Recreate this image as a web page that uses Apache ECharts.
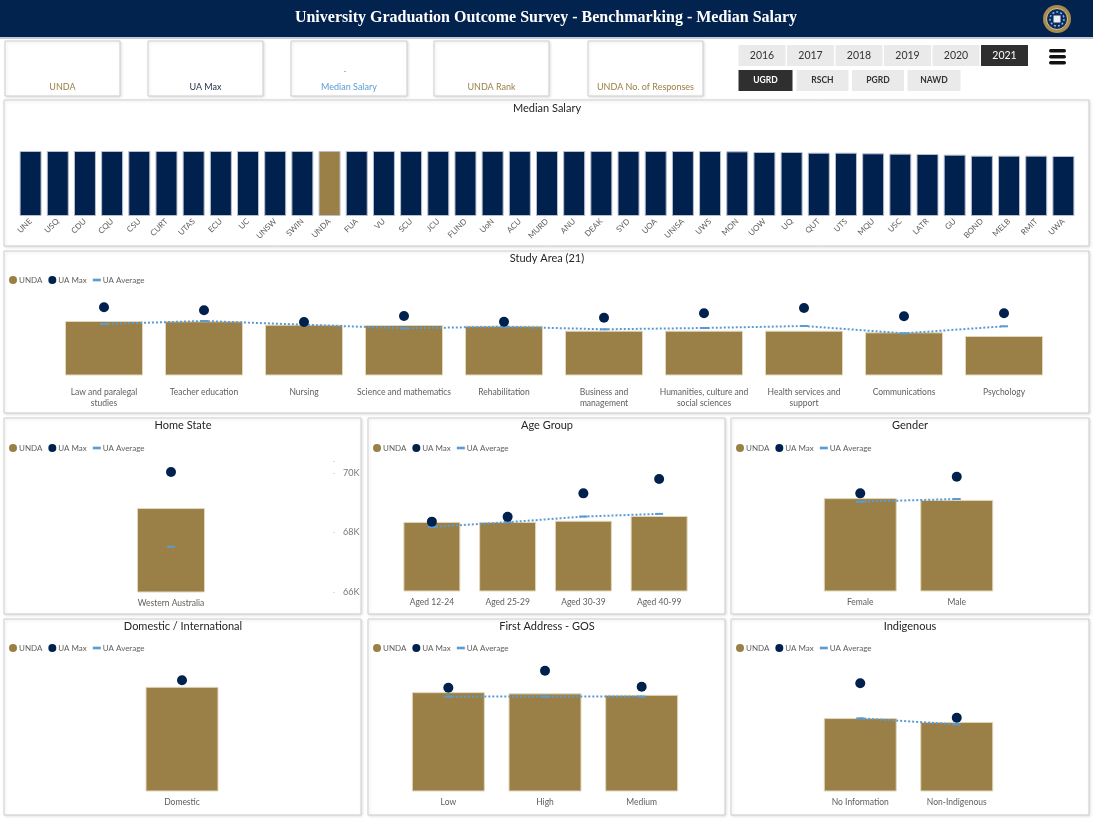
<!DOCTYPE html>
<html><head><meta charset="utf-8">
<script src="https://cdn.jsdelivr.net/npm/echarts@6/dist/echarts.min.js"></script>
<style>html,body{margin:0;padding:0;background:#fff}#c{width:1093px;height:819px}</style>
</head><body><div id="c"></div>
<script>
// ---------- DATA ----------
const universities = ['UNE','USQ','CDU','CQU','CSU','CURT','UTAS','ECU','UC','UNSW','SWIN','UNDA','FUA','VU','SCU','JCU','FLIND','UoN','ACU','MURD','ANU','DEAK','SYD','UOA','UNISA','UWS','MON','UOW','UQ','QUT','UTS','MQU','USC','LATR','GU','BOND','MELB','RMIT','UWA'];
const medianSalary = [70000,70000,70000,70000,70000,70000,70000,70000,70000,70000,70000,70000,70000,70000,70000,70000,70000,70000,70000,70000,70000,70000,70000,70000,70000,70000,69640,68930,68930,68210,68210,67500,67140,66790,66070,65000,65000,65000,64640];
const highlightUni = 'UNDA';

const studyAreas = ['Law and paralegal\nstudies','Teacher education','Nursing','Science and mathematics','Rehabilitation','Business and\nmanagement','Humanities, culture and\nsocial sciences','Health services and\nsupport','Communications','Psychology'];
const studyUnda = [68800,68750,68060,68000,67860,66860,66860,66860,66540,65800];
const studyMax  = [71540,70940,68600,69800,68660,69460,70340,71400,69740,70340];
const studyAvg  = [68200,68800,68060,67340,67660,67140,67400,67800,66340,67740];

const homeStates = ['Western Australia'];
const homeUnda = [68820];
const homeMax  = [70030];
const homeAvg  = [67520];

const ageGroups = ['Aged 12-24','Aged 25-29','Aged 30-39','Aged 40-99'];
const ageUnda = [68320,68320,68360,68520];
const ageMax  = [68330,68490,69280,69760];
const ageAvg  = [68150,68310,68500,68590];

const genders = ['Female','Male'];
const genderUnda = [69120,69060];
const genderMax  = [69280,69840];
const genderAvg  = [69000,69090];

const residency = ['Domestic'];
const residencyUnda = [69500];
const residencyMax  = [69720];
const residencyAvg  = [null];

const gosGroups = ['Low','High','Medium'];
const gosUnda = [69320,69280,69230];
const gosMax  = [69470,70040,69500];
const gosAvg  = [69170,69170,69170];

const indigenous = ['No Information','Non-Indigenous'];
const indigUnda = [68450,68320];
const indigMax  = [69620,68460];
const indigAvg  = [68440,68240];

const homeTicks = ['66K','68K','70K'];
const years = ['2016','2017','2018','2019','2020','2021'];
const activeYear = '2021';
const levels = ['UGRD','RSCH','PGRD','NAWD'];
const activeLevel = 'UGRD';
const cardLabels = ['UNDA','UA Max','Median Salary','UNDA Rank','UNDA No. of Responses'];
const headerTitle = 'University Graduation Outcome Survey - Benchmarking - Median Salary';

// ---------- STYLE ----------
const NAVY = '#00214E', TAN = '#9A8046', BLUE = '#5B9BD5', GREY = '#605E5C';
const FONT = 'Lato, "Open Sans", sans-serif';

const option = {
  animation: false,
  textStyle: { fontFamily: FONT },
  grid: [], xAxis: [], yAxis: [], series: [], legend: [], title: [], graphic: []
};

function addTitle(text, cx, top) {
  option.title.push({ text, left: cx, top, textAlign: 'center', padding: 0,
    textStyle: { fontFamily: FONT, fontSize: 11, fontWeight: 'normal', color: '#252423' } });
}
function addLegend(left, top) {
  option.legend.push({ left, top, padding: 0, itemWidth: 8, itemHeight: 8, itemGap: 6, selectedMode: false,
    itemStyle: { borderWidth: 0 },
    textStyle: { fontFamily: FONT, fontSize: 8, color: GREY, padding: [0, 0, 0, -3] },
    data: [{ name: 'UNDA', icon: 'circle' }, { name: 'UA Max', icon: 'circle' }, { name: 'UA Average', icon: 'path://M0,0H6V2H0Z' }] });
}

// Median salary (grid 0)
option.grid.push({ left: 17, right: 16, top: 151, height: 65 });
option.xAxis.push({ type: 'category', gridIndex: 0, data: universities,
  axisLine: { show: false }, axisTick: { show: false },
  axisLabel: { interval: 0, rotate: 45, fontSize: 8, color: GREY, margin: 4, fontFamily: FONT } });
option.yAxis.push({ type: 'value', gridIndex: 0, min: 0, max: 70000, show: false });
option.series.push({ type: 'bar', name: 'Median Salary', xAxisIndex: 0, yAxisIndex: 0, data: medianSalary, barWidth: 22,
  itemStyle: { color: p => p.name === highlightUni ? TAN : NAVY, borderColor: '#B8C0CE', borderWidth: 1 } });
addTitle('Median Salary', 547, 103);

// Panels with UNDA / UA Max / UA Average
function comboPanel(cats, unda, max, avg, g) {
  const i = option.grid.length;
  option.grid.push({ left: g.left, right: 1093 - g.rightX, top: g.top, height: g.height });
  option.xAxis.push({ type: 'category', gridIndex: i, data: cats,
    axisLine: { show: false }, axisTick: { show: false },
    axisLabel: { interval: 0, fontSize: 8.5, color: GREY, margin: g.labelMargin, lineHeight: 11, fontFamily: FONT } });
  const ya = { type: 'value', gridIndex: i, min: g.min, max: g.max, splitLine: { show: false } };
  if (g.axis) {
    Object.assign(ya, { show: true, position: 'right', interval: 2000, axisLine: { show: false },
      axisTick: { show: true, length: 2, lineStyle: { color: '#DDDDDD' } },
      axisLabel: { color: '#777', fontSize: 9, margin: 10, fontFamily: FONT,
        formatter: v => { const t = (v / 1000) + 'K'; return homeTicks.indexOf(t) >= 0 ? t : ''; } } });
  } else ya.show = false;
  option.yAxis.push(ya);
  option.series.push({ type: 'bar', name: 'UNDA', xAxisIndex: i, yAxisIndex: i, data: unda, barWidth: g.barWidth, z: 2,
    color: TAN, itemStyle: { color: TAN, borderColor: '#E2D8BE', borderWidth: 1 } });
  option.series.push({ type: 'line', name: 'UA Average', xAxisIndex: i, yAxisIndex: i, data: avg, z: 3,
    color: BLUE, symbol: 'rect', symbolSize: [8, 2], showSymbol: true,
    itemStyle: { color: BLUE }, lineStyle: { color: BLUE, width: 2, type: [2, 2] } });
  option.series.push({ type: 'scatter', name: 'UA Max', xAxisIndex: i, yAxisIndex: i, data: max, z: 4,
    color: NAVY, symbolSize: 10, itemStyle: { color: NAVY, opacity: 1 } });
}

comboPanel(studyAreas, studyUnda, studyMax, studyAvg, { left: 54, rightX: 1054, top: 290, height: 85, min: 58000, max: 75000, barWidth: 78, labelMargin: 12 });
addTitle('Study Area (21)', 547, 253); addLegend(9, 276);

const SMALL = { min: 66000, max: 70400, height: 131, labelMargin: 6 };
comboPanel(homeStates, homeUnda, homeMax, homeAvg, Object.assign({}, SMALL, { left: 9, rightX: 333, top: 461, barWidth: 68, axis: true }));
comboPanel(ageGroups, ageUnda, ageMax, ageAvg, Object.assign({}, SMALL, { left: 394, rightX: 697, top: 460, barWidth: 57 }));
comboPanel(genders, genderUnda, genderMax, genderAvg, Object.assign({}, SMALL, { left: 812, rightX: 1005, top: 460, barWidth: 73 }));
comboPanel(residency, residencyUnda, residencyMax, residencyAvg, Object.assign({}, SMALL, { left: 9, rightX: 355, top: 660, barWidth: 73 }));
comboPanel(gosGroups, gosUnda, gosMax, gosAvg, Object.assign({}, SMALL, { left: 400, rightX: 690, top: 660, barWidth: 73 }));
comboPanel(indigenous, indigUnda, indigMax, indigAvg, Object.assign({}, SMALL, { left: 812, rightX: 1005, top: 660, barWidth: 73 }));

addTitle('Home State', 183, 420); addLegend(9, 444);
addTitle('Age Group', 547, 420); addLegend(373, 444);
addTitle('Gender', 910, 420); addLegend(736, 444);
addTitle('Domestic / International', 183, 621); addLegend(9, 644);
addTitle('First Address - GOS', 547, 621); addLegend(373, 644);
addTitle('Indigenous', 910, 621); addLegend(736, 644);

// ---------- DECORATION ----------
const G = option.graphic;
const shadow = { shadowBlur: 3, shadowColor: 'rgba(0,0,0,0.12)', shadowOffsetX: 1, shadowOffsetY: 1 };
function box(x, y, w, h) {
  G.push({ type: 'rect', z: 0, shape: { x, y, width: w, height: h }, style: Object.assign({ fill: '#fff', stroke: '#CFCFCF', lineWidth: 1 }, shadow) });
}
function txt(text, x, y, font, fill) {
  G.push({ type: 'text', z: 5, style: { text, x, y, font, fill, textAlign: 'center', textVerticalAlign: 'middle' } });
}
// header
G.push({ type: 'rect', z: 0, shape: { x: 0, y: 0, width: 1093, height: 37 }, style: { fill: '#03234F' } });
G.push({ type: 'rect', z: 0, shape: { x: 0, y: 37, width: 1093, height: 2 }, style: { fill: '#C3CBD8' } });
txt(headerTitle, 546, 18, 'bold 16px "Liberation Serif", "DejaVu Serif", serif', '#FFFFFF');
G.push({ type: 'circle', z: 1, shape: { cx: 1057, cy: 19, r: 14 }, style: { fill: '#A88C4C' } });
G.push({ type: 'circle', z: 1, shape: { cx: 1057, cy: 19, r: 10.5 }, style: { fill: '#0C2B5E', stroke: '#D8C58E', lineWidth: 1 } });
G.push({ type: 'circle', z: 1, shape: { cx: 1057, cy: 19, r: 7 }, style: { fill: 'none', stroke: '#8FB5E6', lineWidth: 1.5, lineDash: [2, 2] } });
G.push({ type: 'rect', z: 1, shape: { x: 1053.5, y: 15.5, width: 7, height: 7 }, style: { fill: '#E8EEF6' } });

// KPI cards
const cardX = [5, 148, 291, 434, 588], cardW = [115, 115, 116, 115, 115];
const cardColors = [TAN, '#1F2A44', BLUE, TAN, TAN];
cardLabels.forEach((l, k) => { box(cardX[k], 41, cardW[k], 55); txt(l, cardX[k] + cardW[k] / 2, 87, '9px ' + FONT, cardColors[k]); });
txt('-', 345, 72, '7px ' + FONT, '#555');

// year / level buttons
const yearX = [738.5, 787, 835.5, 884, 932.5, 981];
years.forEach((y, k) => {
  const on = y === activeYear;
  G.push({ type: 'rect', z: 1, shape: { x: yearX[k], y: 45, width: 47, height: 21 }, style: { fill: on ? '#2F2F2F' : '#EAEAEA' } });
  txt(y, yearX[k] + 23.5, 55.5, '10.5px ' + FONT, on ? '#FFFFFF' : '#333333');
});
const levelX = [738.5, 796.5, 852, 907.5], levelW = [54, 52, 52, 53];
levels.forEach((l, k) => {
  const on = l === activeLevel;
  G.push({ type: 'rect', z: 1, shape: { x: levelX[k], y: 70, width: levelW[k], height: 21 }, style: { fill: on ? '#2F2F2F' : '#EAEAEA' } });
  txt(l, levelX[k] + levelW[k] / 2, 80.5, 'bold 8.5px ' + FONT, on ? '#FFFFFF' : '#333333');
});
[49, 55, 61].forEach(yy => G.push({ type: 'rect', z: 1, shape: { x: 1049, y: yy, width: 17, height: 3.5, r: 1.7 }, style: { fill: '#111111' } }));

// panels
box(4, 100, 1085, 146);
box(4, 251, 1085, 162);
[[4, 357], [368, 357], [731, 358]].forEach(([x, w]) => { box(x, 418, w, 196); box(x, 619, w, 196); });

echarts.init(document.getElementById('c'), null, { renderer: 'canvas' }).setOption(option);
</script></body></html>
